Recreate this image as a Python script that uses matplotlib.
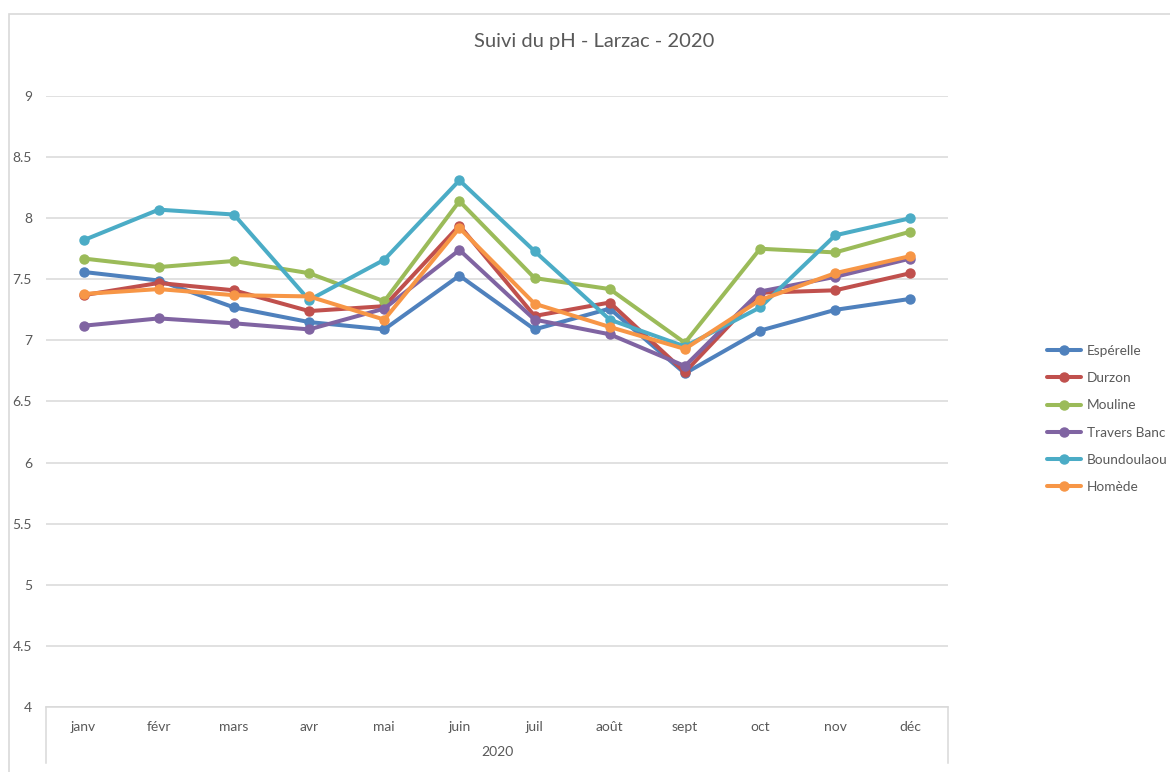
import matplotlib.pyplot as plt
from matplotlib.patches import Rectangle
from matplotlib.lines import Line2D

plt.rcParams['font.family'] = ['Lato', 'DejaVu Sans']

# months and pH readings
mois = ['janv', 'févr', 'mars', 'avr', 'mai', 'juin', 'juil', 'août', 'sept', 'oct', 'nov', 'déc']
annee = '2020'

esperelle   = [7.56, 7.49, 7.27, 7.15, 7.09, 7.53, 7.09, 7.26, 6.73, 7.08, 7.25, 7.34]
durzon      = [7.37, 7.47, 7.41, 7.24, 7.28, 7.94, 7.20, 7.31, 6.74, 7.39, 7.41, 7.55]
mouline     = [7.67, 7.60, 7.65, 7.55, 7.32, 8.14, 7.51, 7.42, 6.98, 7.75, 7.72, 7.89]
travers     = [7.12, 7.18, 7.14, 7.09, 7.26, 7.74, 7.17, 7.05, 6.79, 7.40, 7.52, 7.67]
boundoulaou = [7.82, 8.07, 8.03, 7.33, 7.66, 8.31, 7.73, 7.17, 6.95, 7.27, 7.86, 8.00]
homede      = [7.38, 7.42, 7.37, 7.36, 7.17, 7.92, 7.30, 7.11, 6.93, 7.33, 7.55, 7.69]

series = [
    ('Espérelle', esperelle, '#4F81BD'),
    ('Durzon', durzon, '#C0504D'),
    ('Mouline', mouline, '#9BBB59'),
    ('Travers Banc', travers, '#8064A2'),
    ('Boundoulaou', boundoulaou, '#4BACC6'),
    ('Homède', homede, '#F79646'),
]

W, H = 1170, 772
fig = plt.figure(figsize=(W / 100, H / 100), dpi=100)

# chart border
fig.patches.append(Rectangle((9 / W, -0.01), 1.1, (H - 14) / H + 0.01, transform=fig.transFigure,
                             fill=False, edgecolor='#d9d9d9', linewidth=1.2))

left, right, top, bottom = 46, 948, 96, 707
ax = fig.add_axes([left / W, (H - bottom) / H, (right - left) / W, (bottom - top) / H])

x = list(range(len(mois)))
for name, vals, col in series:
    ax.plot(x, vals, color=col, linewidth=2.9, marker='o', markersize=6.5,
            solid_capstyle='round', label=name)

ax.set_xlim(-0.5, len(mois) - 0.5)
ax.set_ylim(4, 9)
ax.set_yticks([4, 4.5, 5, 5.5, 6, 6.5, 7, 7.5, 8, 8.5, 9])
ax.set_yticklabels(['4', '4.5', '5', '5.5', '6', '6.5', '7', '7.5', '8', '8.5', '9'])
ax.grid(axis='y', color='#d9d9d9', linewidth=1.1)
ax.set_axisbelow(True)
for s in ['top', 'right', 'left']:
    ax.spines[s].set_visible(False)
ax.spines['bottom'].set_color('#d9d9d9')
ax.spines['bottom'].set_linewidth(1.1)
ax.tick_params(axis='y', length=0, pad=10, labelsize=10, labelcolor='#595959')
ax.tick_params(axis='x', length=0, pad=10, labelsize=10, labelcolor='#595959')
ax.set_xticks(x)
ax.set_xticklabels(mois)

# second level of the category axis
ybot = (H - 763) / H
y0 = (H - bottom) / H
for xp in (left, right):
    fig.add_artist(Line2D([xp / W, xp / W], [ybot, y0], color='#d9d9d9', linewidth=1.1))
fig.text((left + right) / 2 / W, (H - 752) / H, annee, ha='center', va='center',
         fontsize=10, color='#595959')

fig.text(594 / W, (H - 42) / H, 'Suivi du pH - Larzac - 2020',
         ha='center', va='center', fontsize=14.5, color='#595959')

ax.legend(loc='center left', bbox_to_anchor=(1047 / W, (H - 419) / H),
          bbox_transform=fig.transFigure, frameon=False, fontsize=9.8,
          labelcolor='#595959', handlelength=2.5, labelspacing=1.12, handletextpad=0.45,
          borderpad=0, borderaxespad=0)

fig.savefig('out.png', dpi=100)
